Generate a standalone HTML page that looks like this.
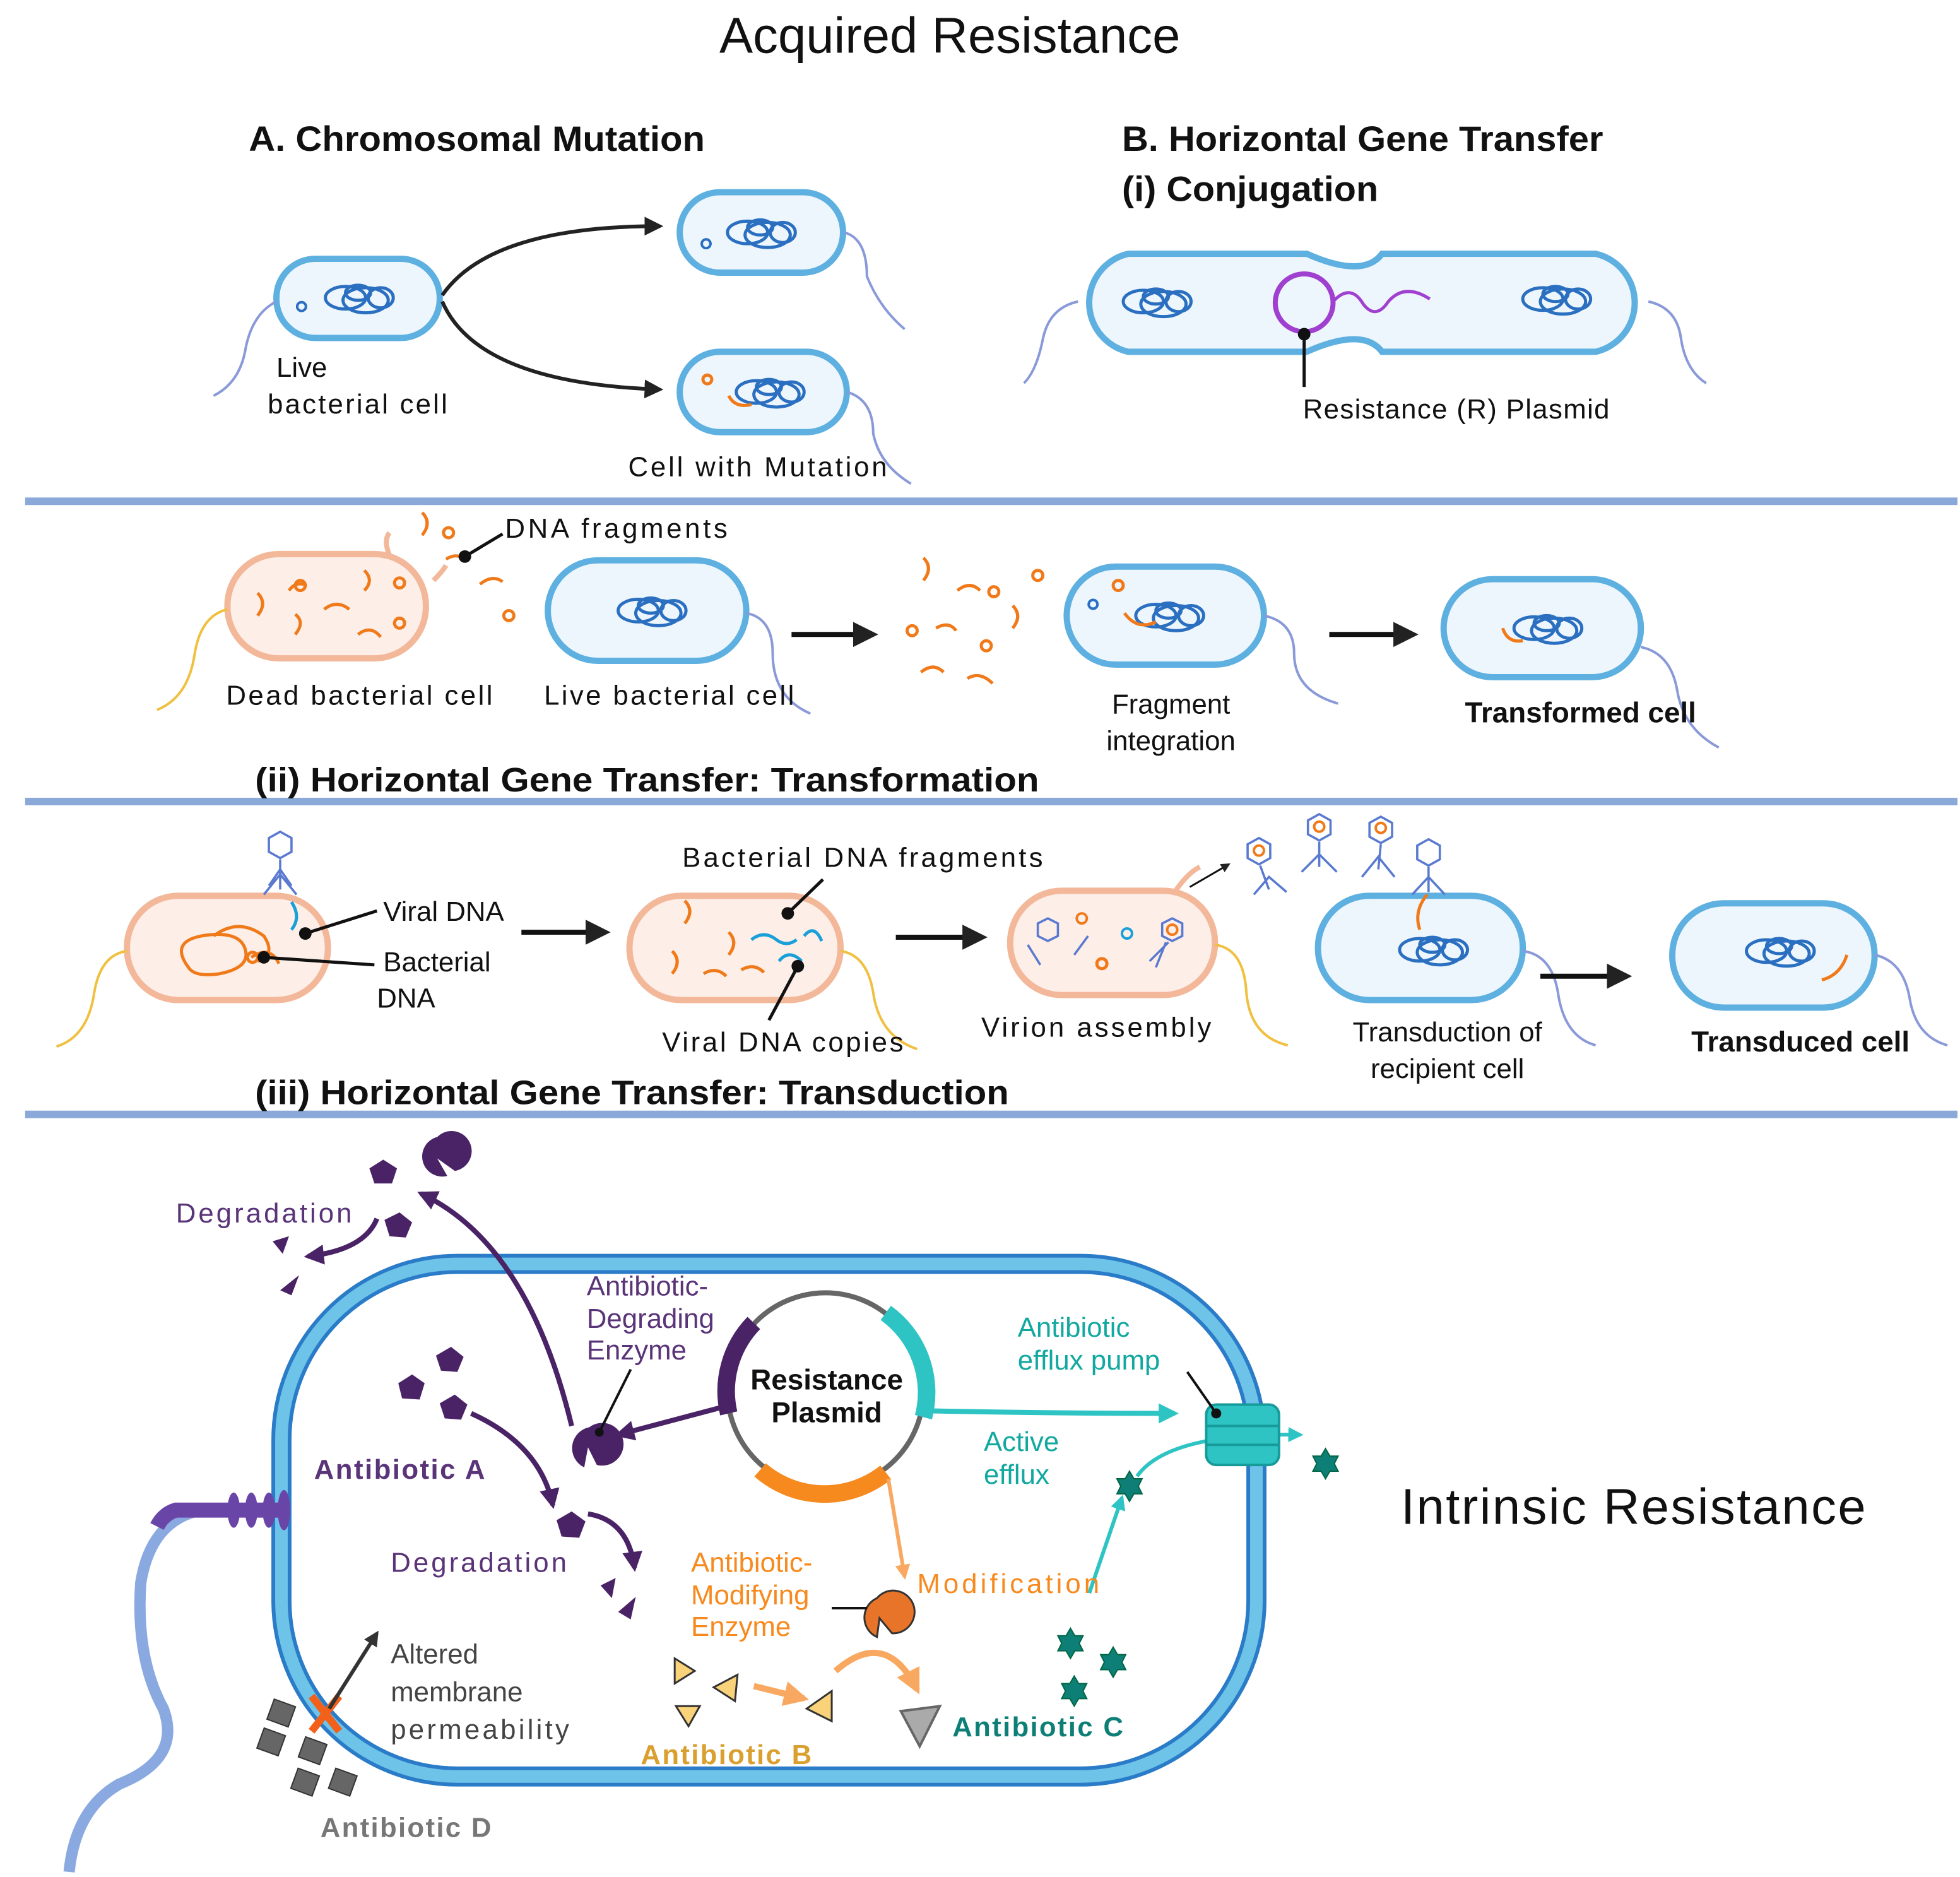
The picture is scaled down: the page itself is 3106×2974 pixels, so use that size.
<!DOCTYPE html>
<html><head><meta charset="utf-8"><style>
html,body{margin:0;padding:0;background:#fff}
svg{display:block}
text{font-family:"Liberation Sans",sans-serif}
</style></head><body>
<svg width="3106" height="2974" viewBox="0 0 1560 1494" preserveAspectRatio="none" xmlns="http://www.w3.org/2000/svg">
<defs>
<marker id="ab" viewBox="0 0 10 10" refX="8" refY="5" markerWidth="5" markerHeight="5" orient="auto"><path d="M0,0L10,5L0,10z" fill="#222"/></marker>
<marker id="ap" viewBox="0 0 10 10" refX="8" refY="5" markerWidth="4" markerHeight="4" orient="auto"><path d="M0,0L10,5L0,10z" fill="#4a2366"/></marker>
<marker id="at" viewBox="0 0 10 10" refX="8" refY="5" markerWidth="4" markerHeight="4" orient="auto"><path d="M0,0L10,5L0,10z" fill="#2ec4c4"/></marker>
<marker id="ao" viewBox="0 0 10 10" refX="8" refY="5" markerWidth="4" markerHeight="4" orient="auto"><path d="M0,0L10,5L0,10z" fill="#f8a860"/></marker>
<marker id="ag" viewBox="0 0 10 10" refX="8" refY="5" markerWidth="4" markerHeight="4" orient="auto"><path d="M0,0L10,5L0,10z" fill="#333"/></marker>
<g id="chr" fill="none" stroke="#2a6fc0" stroke-width="2.5">
<ellipse cx="-12" cy="0" rx="16" ry="9"/><ellipse cx="4" cy="2" rx="18" ry="10"/><ellipse cx="16" cy="0" rx="10" ry="8"/><ellipse cx="-2" cy="-4" rx="10" ry="6"/>
</g>
<polygon id="star" points="0,-12 3.5,-6 10,-6 7,0 10,6 3.5,6 0,12 -3.5,6 -10,6 -7,0 -10,-6 -3.5,-6" fill="#0d7f76" stroke="#064" stroke-width="1"/>
</defs>
<rect width="1560" height="1494" fill="#fff"/>
<text x="756" y="42" font-size="40" text-anchor="middle" fill="#111">Acquired Resistance</text>
<text x="198" y="120" font-size="28" font-weight="bold" fill="#111" textLength="363" lengthAdjust="spacingAndGlyphs">A. Chromosomal Mutation</text>
<text x="893" y="120" font-size="28" font-weight="bold" fill="#111" textLength="383" lengthAdjust="spacingAndGlyphs">B. Horizontal Gene Transfer</text>
<text x="893" y="160" font-size="28" font-weight="bold" fill="#111" textLength="204" lengthAdjust="spacingAndGlyphs">(i) Conjugation</text>

<g fill="#8aa9d8"><rect x="20" y="396" width="1538" height="6"/><rect x="20" y="635" width="1538" height="6"/><rect x="20" y="884" width="1538" height="6"/></g>

<g stroke="#5eb0e0" stroke-width="5" fill="#eef6fd">
<rect x="220" y="206" width="130" height="63" rx="31"/>
<rect x="541" y="153" width="130" height="64" rx="32"/>
<rect x="541" y="280" width="133" height="64" rx="32"/>
<rect x="436" y="446" width="158" height="80" rx="40"/>
<rect x="849" y="451" width="157" height="78" rx="39"/>
<rect x="1149" y="461" width="157" height="78" rx="39"/>
<rect x="1049" y="713" width="163" height="83" rx="41"/>
<rect x="1331" y="719" width="161" height="83" rx="41"/>
<path d="M898,202 H1040 Q1085,222 1100,202 H1270 A40,40 0 0 1 1270,280 H1100 Q1085,260 1040,280 H898 A40,40 0 0 1 898,202z"/>
</g>
<g stroke="#f3b89a" stroke-width="5" fill="#fdeee8">
<rect x="181" y="441" width="158" height="83" rx="41"/>
<rect x="101" y="713" width="160" height="83" rx="41"/>
<rect x="501" y="713" width="168" height="83" rx="41"/>
<rect x="804" y="709" width="163" height="83" rx="41"/>
</g>
<g fill="none" stroke="#f3b89a" stroke-width="4"><path d="M310,442 Q305,430 310,424"/><path d="M345,462 Q352,455 355,450"/><path d="M935,710 Q945,695 955,690"/></g>
<use href="#chr" x="287" y="237"/><use href="#chr" x="607" y="185"/><use href="#chr" x="614" y="312"/>
<use href="#chr" x="922" y="240"/><use href="#chr" x="1240" y="238"/><use href="#chr" x="520" y="486"/>
<use href="#chr" x="932" y="490"/><use href="#chr" x="1233" y="500"/><use href="#chr" x="1142" y="756"/><use href="#chr" x="1418" y="757"/>
<g fill="none" stroke="#2a6fc0" stroke-width="2"><circle cx="240" cy="244" r="3.5"/><circle cx="562" cy="194" r="3.5"/><circle cx="870" cy="481" r="3.5"/></g>
<g fill="none" stroke="#f07a1a" stroke-width="2.5"><circle cx="563" cy="302" r="3.5"/><path d="M580,315 Q585,325 598,322"/><path d="M895,488 Q905,502 920,495"/><path d="M1196,500 Q1200,512 1212,510"/><path d="M1470,760 Q1465,776 1450,780"/><path d="M1130,740 Q1125,725 1136,712"/></g>
<g fill="none" stroke-width="2" stroke="#8a9ad8">
<path d="M220,240 Q200,250 195,280 Q190,305 170,315"/>
<path d="M672,185 Q690,190 690,220 Q700,245 720,262"/>
<path d="M674,312 Q695,318 695,345 Q700,370 725,385"/>
<path d="M858,240 Q835,245 830,270 Q825,295 815,305"/>
<path d="M1312,240 Q1335,245 1338,270 Q1342,295 1358,305"/>
<path d="M594,488 Q615,492 615,520 Q615,555 645,568"/>
<path d="M1006,490 Q1030,495 1030,520 Q1030,550 1065,560"/>
<path d="M1306,515 Q1330,520 1335,550 Q1340,580 1368,595"/>
<path d="M1212,757 Q1235,760 1240,790 Q1245,825 1270,832"/>
<path d="M1492,760 Q1515,765 1520,795 Q1525,825 1550,832"/>
</g>
<g fill="none" stroke-width="2" stroke="#f0c040">
<path d="M181,485 Q160,490 155,520 Q150,555 125,565"/>
<path d="M101,757 Q80,760 75,790 Q70,825 45,833"/>
<path d="M669,757 Q690,760 695,790 Q700,825 730,835"/>
<path d="M967,752 Q990,755 992,790 Q995,825 1025,832"/>
</g>
<path d="M352,235 Q390,180 525,180" fill="none" stroke="#222" stroke-width="3" marker-end="url(#ab)"/>
<path d="M352,240 Q380,305 525,310" fill="none" stroke="#222" stroke-width="3" marker-end="url(#ab)"/>
<text x="220" y="300" font-size="22" fill="#111">Live</text>
<text x="213" y="329" font-size="22" fill="#111" textLength="143">bacterial cell</text>
<text x="500" y="379" font-size="22" fill="#111" textLength="206">Cell with Mutation</text>
<circle cx="1038" cy="241" r="23" fill="none" stroke="#a040d0" stroke-width="4"/>
<path d="M1061,240 Q1075,225 1085,242 Q1095,255 1105,240 Q1118,225 1138,238" fill="none" stroke="#a040d0" stroke-width="2.5"/>
<line x1="1038" y1="266" x2="1038" y2="308" stroke="#111" stroke-width="2.5"/><circle cx="1038" cy="266" r="5" fill="#111"/>
<text x="1037" y="333" font-size="22" fill="#111" textLength="244">Resistance (R) Plasmid</text>

<g fill="none" stroke="#f07a1a" stroke-width="2.5">
<path d="M205,490 q8,-10 0,-18"/><path d="M235,505 q8,-10 0,-16"/><path d="M258,485 q10,-8 20,0"/><path d="M290,470 q8,-8 0,-16"/><path d="M285,505 q10,-8 18,2"/><path d="M230,470 q6,-8 14,-4"/>
<path d="M336,426 q8,-10 0,-18"/><path d="M355,445 q10,-6 15,2"/><path d="M382,465 q10,-8 18,-2"/>
<path d="M735,462 q8,-10 0,-18"/><path d="M762,470 q10,-8 18,0"/><path d="M745,500 q10,-6 16,2"/><path d="M806,500 q8,-10 0,-18"/><path d="M733,535 q10,-8 18,0"/><path d="M770,540 q10,-6 20,4"/>
<path d="M545,735 q8,-10 0,-18"/><path d="M580,760 q8,-10 0,-18"/><path d="M535,775 q8,-10 0,-18"/><path d="M560,775 q10,-6 18,2"/><path d="M590,772 q10,-6 18,2"/>
<circle cx="239" cy="466" r="4"/><circle cx="318" cy="464" r="4"/><circle cx="318" cy="496" r="4"/><circle cx="357" cy="424" r="4"/><circle cx="405" cy="490" r="4"/><circle cx="726" cy="502" r="4"/><circle cx="791" cy="471" r="4"/><circle cx="826" cy="458" r="4"/><circle cx="785" cy="514" r="4"/><circle cx="890" cy="466" r="4"/><circle cx="877" cy="767" r="4"/><circle cx="201" cy="762" r="4"/>
<path d="M150,770 q-15,-20 10,-25 q30,-5 35,10 q5,15 -20,20 q-20,3 -25,-5z"/><path d="M170,745 q20,-15 40,0 q10,15 -5,20"/><path d="M200,762 q15,-10 22,5"/>
</g>
<g fill="none" stroke="#1aa0d8" stroke-width="2.5"><path d="M598,748 q10,-8 20,0 q8,6 16,0"/><path d="M640,745 q8,-10 14,4"/><path d="M620,765 q8,-10 18,0"/><path d="M232,740 q8,-10 0,-22"/></g>
<line x1="370" y1="443" x2="400" y2="425" stroke="#111" stroke-width="2.5"/><circle cx="370" cy="443" r="5" fill="#111"/>
<text x="402" y="428" font-size="22" fill="#111" textLength="177">DNA fragments</text>
<line x1="630" y1="505" x2="695" y2="505" stroke="#111" stroke-width="4" marker-end="url(#ab)"/>
<line x1="1058" y1="505" x2="1125" y2="505" stroke="#111" stroke-width="4" marker-end="url(#ab)"/>
<text x="180" y="561" font-size="22" fill="#111" textLength="212">Dead bacterial cell</text>
<text x="433" y="561" font-size="22" fill="#111" textLength="199">Live bacterial cell</text>
<text x="932" y="568" font-size="22" fill="#111" text-anchor="middle">Fragment</text>
<text x="932" y="597" font-size="22" fill="#111" text-anchor="middle">integration</text>
<text x="1258" y="575" font-size="23" font-weight="bold" fill="#111" text-anchor="middle">Transformed cell</text>
<text x="203" y="630" font-size="27" font-weight="bold" fill="#111" textLength="624" lengthAdjust="spacingAndGlyphs">(ii) Horizontal Gene Transfer: Transformation</text>

<g fill="none" stroke="#5a7ad0" stroke-width="1.8">
<polygon points="223,662 232,667 232,678 223,683 214,678 214,667"/><line x1="223" y1="684" x2="223" y2="708"/><path d="M210,712 L223,696 L236,712 M214,705 L223,692 L232,705"/>
<polygon points="1050,648 1059,653 1059,664 1050,669 1041,664 1041,653"/><line x1="1050" y1="670" x2="1050" y2="690"/><path d="M1036,694 L1050,680 L1064,694"/>
<polygon points="1099,650 1108,655 1108,666 1099,671 1090,666 1090,655"/><line x1="1099" y1="672" x2="1097" y2="692"/><path d="M1084,698 L1097,682 L1110,698"/>
<polygon points="1002,667 1011,672 1011,683 1002,688 993,683 993,672"/><line x1="1003" y1="689" x2="1010" y2="708"/><path d="M998,712 L1010,698 L1024,710"/>
<polygon points="1137,668 1146,673 1146,684 1137,689 1128,684 1128,673"/><line x1="1137" y1="690" x2="1137" y2="710"/><path d="M1124,712 L1137,698 L1150,712"/>
<polygon points="933,731 941,735 941,745 933,749 925,745 925,735"/><path d="M928,750 L920,770 M915,765 L930,750"/>
<polygon points="834,731 842,735 842,745 834,749 826,745 826,735"/><path d="M818,752 L828,768 M855,760 L866,745"/>
</g>
<g fill="none" stroke="#f07a1a" stroke-width="2"><circle cx="1050" cy="658" r="4"/><circle cx="1099" cy="659" r="4"/><circle cx="1002" cy="677" r="4"/><circle cx="933" cy="740" r="4"/><circle cx="861" cy="731" r="4"/><circle cx="897" cy="743" r="4" stroke="#1aa0d8"/></g>
<line x1="947" y1="706" x2="978" y2="688" stroke="#111" stroke-width="1.5" marker-end="url(#ab)"/>
<line x1="243" y1="743" x2="300" y2="725" stroke="#111" stroke-width="2.5"/><circle cx="243" cy="743" r="5" fill="#111"/>
<line x1="210" y1="762" x2="298" y2="768" stroke="#111" stroke-width="2.5"/><circle cx="210" cy="762" r="5" fill="#111"/>
<text x="305" y="733" font-size="22" fill="#111">Viral DNA</text>
<text x="305" y="773" font-size="22" fill="#111">Bacterial</text>
<text x="300" y="802" font-size="22" fill="#111">DNA</text>
<line x1="415" y1="742" x2="482" y2="742" stroke="#111" stroke-width="4" marker-end="url(#ab)"/>
<line x1="713" y1="746" x2="782" y2="746" stroke="#111" stroke-width="4" marker-end="url(#ab)"/>
<line x1="1226" y1="777" x2="1295" y2="777" stroke="#111" stroke-width="4" marker-end="url(#ab)"/>
<line x1="627" y1="727" x2="655" y2="700" stroke="#111" stroke-width="2.5"/><circle cx="627" cy="727" r="5" fill="#111"/>
<line x1="635" y1="769" x2="612" y2="812" stroke="#111" stroke-width="2.5"/><circle cx="635" cy="769" r="5" fill="#111"/>
<text x="543" y="690" font-size="22" fill="#111" textLength="287">Bacterial DNA fragments</text>
<text x="527" y="837" font-size="22" fill="#111" textLength="192">Viral DNA copies</text>
<text x="781" y="825" font-size="22" fill="#111" textLength="183">Virion assembly</text>
<text x="1152" y="829" font-size="22" fill="#111" text-anchor="middle">Transduction of</text>
<text x="1152" y="858" font-size="22" fill="#111" text-anchor="middle">recipient cell</text>
<text x="1433" y="837" font-size="23" font-weight="bold" fill="#111" text-anchor="middle">Transduced cell</text>
<text x="203" y="879" font-size="27" font-weight="bold" fill="#111" textLength="600" lengthAdjust="spacingAndGlyphs">(iii) Horizontal Gene Transfer: Transduction</text>

<rect x="224" y="1006" width="776" height="408" rx="140" fill="#fff" stroke="#2b7cc8" stroke-width="16"/>
<rect x="224" y="1006" width="776" height="408" rx="140" fill="none" stroke="#6ec3e8" stroke-width="10"/>
<path d="M215,1202 L160,1202 Q120,1210 112,1260 Q108,1320 130,1360 Q145,1400 95,1420 Q60,1440 55,1490" fill="none" stroke="#8aa9e0" stroke-width="9"/>
<path d="M225,1202 L140,1202 Q130,1205 125,1215" fill="none" stroke="#6a45a8" stroke-width="12"/>
<g fill="#6a45a8"><ellipse cx="186" cy="1202" rx="5" ry="14"/><ellipse cx="200" cy="1202" rx="5" ry="14"/><ellipse cx="214" cy="1202" rx="5" ry="14"/><ellipse cx="226" cy="1202" rx="5" ry="16"/></g>
<text x="1300" y="1213" font-size="40" fill="#111" text-anchor="middle" textLength="370">Intrinsic Resistance</text>
<circle cx="657" cy="1107" r="78" fill="none" stroke="#666" stroke-width="4"/>
<path d="M600,1053 A78,78 0 0 0 580,1125" fill="none" stroke="#4a2366" stroke-width="14"/>
<path d="M705,1045 A78,78 0 0 1 735,1128" fill="none" stroke="#2ec4c4" stroke-width="14"/>
<path d="M605,1170 A78,78 0 0 0 705,1172" fill="none" stroke="#f78a1e" stroke-width="14"/>
<text x="658" y="1106" font-size="23" font-weight="bold" fill="#111" text-anchor="middle">Resistance</text>
<text x="658" y="1132" font-size="23" font-weight="bold" fill="#111" text-anchor="middle">Plasmid</text>
<g fill="#4a2366">
<polygon points="305,923 316,930 312,942 298,942 294,930"/>
<polygon points="318,965 328,973 323,985 310,984 306,971"/>
<polygon points="359,1072 369,1080 364,1092 351,1091 347,1079"/>
<polygon points="328,1094 338,1101 334,1114 320,1113 317,1101"/>
<polygon points="362,1110 372,1118 367,1130 354,1129 350,1117"/>
<polygon points="455,1203 466,1211 461,1224 447,1223 443,1210"/>
<path d="M348,905 A16,16 0 1 1 362,932 L348,922 L356,936 A16,16 0 0 1 348,905z"/>
<path d="M469,1136 A17,17 0 1 1 475,1166 L468,1152 L465,1168 A17,17 0 0 1 469,1136z"/>
<polygon points="217,988 230,984 225,998"/><polygon points="223,1027 238,1015 232,1031"/>
<polygon points="478,1262 490,1256 487,1272"/><polygon points="492,1283 506,1271 502,1289"/>
</g>
<path d="M455,1135 Q420,990 335,950" fill="none" stroke="#4a2366" stroke-width="4" marker-end="url(#ap)"/>
<path d="M300,970 Q290,995 245,1000" fill="none" stroke="#4a2366" stroke-width="4" marker-end="url(#ap)"/>
<path d="M375,1125 Q430,1150 440,1198" fill="none" stroke="#4a2366" stroke-width="4" marker-end="url(#ap)"/>
<path d="M468,1205 Q500,1210 505,1248" fill="none" stroke="#4a2366" stroke-width="4" marker-end="url(#ap)"/>
<path d="M575,1120 L492,1142" fill="none" stroke="#4a2366" stroke-width="4" marker-end="url(#ap)"/>
<line x1="477" y1="1140" x2="502" y2="1090" stroke="#111" stroke-width="2"/><circle cx="477" cy="1140" r="3.5" fill="#111"/>
<text x="140" y="973" font-size="22" fill="#5a3478" textLength="140">Degradation</text>
<text x="467" y="1031" font-size="22" fill="#5a3478">Antibiotic-</text>
<text x="467" y="1057" font-size="22" fill="#5a3478">Degrading</text>
<text x="467" y="1082" font-size="22" fill="#5a3478">Enzyme</text>
<text x="250" y="1177" font-size="22" font-weight="bold" fill="#5a3478" textLength="136">Antibiotic A</text>
<text x="311" y="1251" font-size="22" fill="#5a3478" textLength="140">Degradation</text>
<path d="M742,1123 Q840,1125 935,1125" fill="none" stroke="#2ec4c4" stroke-width="4" marker-end="url(#at)"/>
<path d="M867,1268 L893,1192" fill="none" stroke="#2ec4c4" stroke-width="3" marker-end="url(#at)"/>
<path d="M905,1175 Q930,1140 1035,1142" fill="none" stroke="#2ec4c4" stroke-width="3" marker-end="url(#at)"/>
<rect x="960" y="1118" width="58" height="48" rx="8" fill="#2ec4c4" stroke="#179a9a" stroke-width="2"/>
<line x1="960" y1="1135" x2="1018" y2="1135" stroke="#179a9a" stroke-width="2"/><line x1="960" y1="1150" x2="1018" y2="1150" stroke="#179a9a" stroke-width="2"/>
<line x1="968" y1="1125" x2="945" y2="1092" stroke="#111" stroke-width="2"/><circle cx="968" cy="1125" r="4" fill="#111"/>
<use href="#star" x="1055" y="1165"/><use href="#star" x="899" y="1183"/><use href="#star" x="852" y="1308"/><use href="#star" x="886" y="1323"/><use href="#star" x="855" y="1346"/>
<text x="810" y="1064" font-size="22" fill="#12a8a0">Antibiotic</text>
<text x="810" y="1090" font-size="22" fill="#12a8a0">efflux pump</text>
<text x="783" y="1155" font-size="22" fill="#12a8a0">Active</text>
<text x="783" y="1181" font-size="22" fill="#12a8a0">efflux</text>
<text x="758" y="1382" font-size="22" font-weight="bold" fill="#0d7f76" textLength="136">Antibiotic C</text>
<path d="M707,1177 L720,1255" fill="none" stroke="#f8a860" stroke-width="3" marker-end="url(#ao)"/>
<path d="M665,1330 Q705,1295 730,1345" fill="none" stroke="#f8a860" stroke-width="5" marker-end="url(#ao)"/>
<path d="M600,1342 L640,1352" fill="none" stroke="#f8a860" stroke-width="5" marker-end="url(#ao)"/>
<path d="M698,1272 A17,17 0 1 1 710,1300 L700,1288 L698,1303 A17,17 0 0 1 698,1272z" fill="#e8742a" stroke="#333" stroke-width="1.5"/>
<line x1="662" y1="1280" x2="690" y2="1280" stroke="#111" stroke-width="2"/>
<g fill="#f9d27a" stroke="#333" stroke-width="1.5"><polygon points="537,1320 553,1330 537,1340"/><polygon points="587,1333 585,1354 568,1343"/><polygon points="538,1358 557,1358 548,1374"/><polygon points="662,1346 662,1370 642,1360"/></g>
<path d="M717,1362 L748,1358 L732,1390z" fill="#aaa" stroke="#666" stroke-width="2"/>
<text x="730" y="1268" font-size="22" fill="#f78a1e" textLength="145">Modification</text>
<text x="550" y="1251" font-size="22" fill="#f78a1e">Antibiotic-</text>
<text x="550" y="1277" font-size="22" fill="#f78a1e">Modifying</text>
<text x="550" y="1302" font-size="22" fill="#f78a1e">Enzyme</text>
<text x="510" y="1404" font-size="22" font-weight="bold" fill="#d9a030" textLength="136">Antibiotic B</text>
<g fill="#666" stroke="#333" stroke-width="1"><polygon points="215,1355 233,1355 233,1372 215,1372" transform="rotate(20 224 1363)"/><polygon points="207,1378 225,1378 225,1395 207,1395" transform="rotate(20 216 1386)"/><polygon points="240,1385 258,1385 258,1402 240,1402" transform="rotate(20 249 1393)"/><polygon points="234,1410 252,1410 252,1427 234,1427" transform="rotate(20 243 1418)"/><polygon points="264,1410 282,1410 282,1427 264,1427" transform="rotate(20 273 1418)"/></g>
<path d="M248,1350 L270,1378 M270,1350 L248,1378" stroke="#f2601a" stroke-width="6"/>
<line x1="262" y1="1360" x2="300" y2="1300" stroke="#333" stroke-width="3" marker-end="url(#ag)"/>
<text x="311" y="1324" font-size="22" fill="#444">Altered</text>
<text x="311" y="1354" font-size="22" fill="#444">membrane</text>
<text x="311" y="1384" font-size="22" fill="#444" textLength="142">permeability</text>
<text x="255" y="1462" font-size="22" font-weight="bold" fill="#777" textLength="136">Antibiotic D</text>
</svg>
</body></html>
